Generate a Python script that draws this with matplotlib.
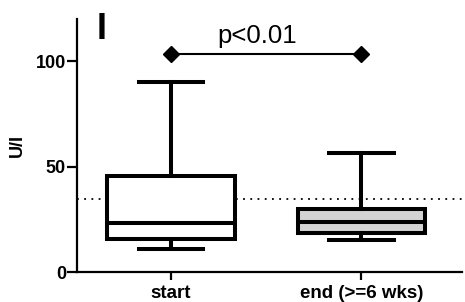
import matplotlib
matplotlib.use('Agg')
import matplotlib.pyplot as plt

plt.rcParams['font.family'] = ['Liberation Sans', 'DejaVu Sans']

groups = ['start', 'end (>=6 wks)']
whislo = [10.8, 15.2]
q1 = [15.5, 18.4]
med = [23.4, 23.9]
q3 = [45.6, 29.8]
whishi = [90.0, 56.4]
fills = ['white', '#d3d3d3']
ref_level = 34.5
p_text = 'p<0.01'
p_level = 103.4

stats = []
for i in range(len(groups)):
    stats.append({'whislo': whislo[i], 'q1': q1[i], 'med': med[i],
                  'q3': q3[i], 'whishi': whishi[i], 'fliers': [], 'label': groups[i]})

fig = plt.figure(figsize=(4.65, 3.02), dpi=100)
ax = fig.add_axes([0.1656, 0.0993, 0.8279, 0.8377])

lw = 2.9
bp = ax.bxp(stats, positions=[0, 1], widths=0.67, capwidths=0.34,
            patch_artist=True, showfliers=False,
            boxprops=dict(linewidth=lw, edgecolor='black'),
            medianprops=dict(linewidth=lw, color='black'),
            whiskerprops=dict(linewidth=lw, color='black'),
            capprops=dict(linewidth=lw, color='black'))
for patch, c in zip(bp['boxes'], fills):
    patch.set_facecolor(c)

# reference line
ax.axhline(ref_level, color='black', linestyle=(0, (1, 3)), linewidth=1.3, zorder=0.5)

# significance bar
ax.plot([0, 1], [p_level, p_level], color='black', linewidth=1.5,
        marker='D', markersize=8, clip_on=False)
ax.text(0.455, p_level + 5.4, p_text, ha='center', va='baseline', fontsize=18.5)

ax.set_xlim(-0.495, 1.53)
ax.set_ylim(0, 120)
ax.set_yticks([0, 50, 100])
ax.set_xticks([0, 1])
ax.set_xticklabels(groups, fontsize=13.5, fontweight='bold')
for lab in ax.get_yticklabels():
    lab.set_fontsize(13)
    lab.set_fontweight('bold')

ax.spines['top'].set_visible(False)
ax.spines['right'].set_visible(False)
ax.spines['left'].set_linewidth(1.6)
ax.spines['bottom'].set_linewidth(1.6)
ax.tick_params(axis='y', length=7, width=1.6, pad=1)
ax.tick_params(axis='x', length=6, width=1.6, pad=3)

ax.set_ylabel('U/I', fontsize=13, fontweight='bold', labelpad=7)
fig.text(0.208, 1 - 39 / 302, 'I', fontsize=26, fontweight='bold', ha='left', va='baseline')

fig.savefig('out.png', dpi=100)
